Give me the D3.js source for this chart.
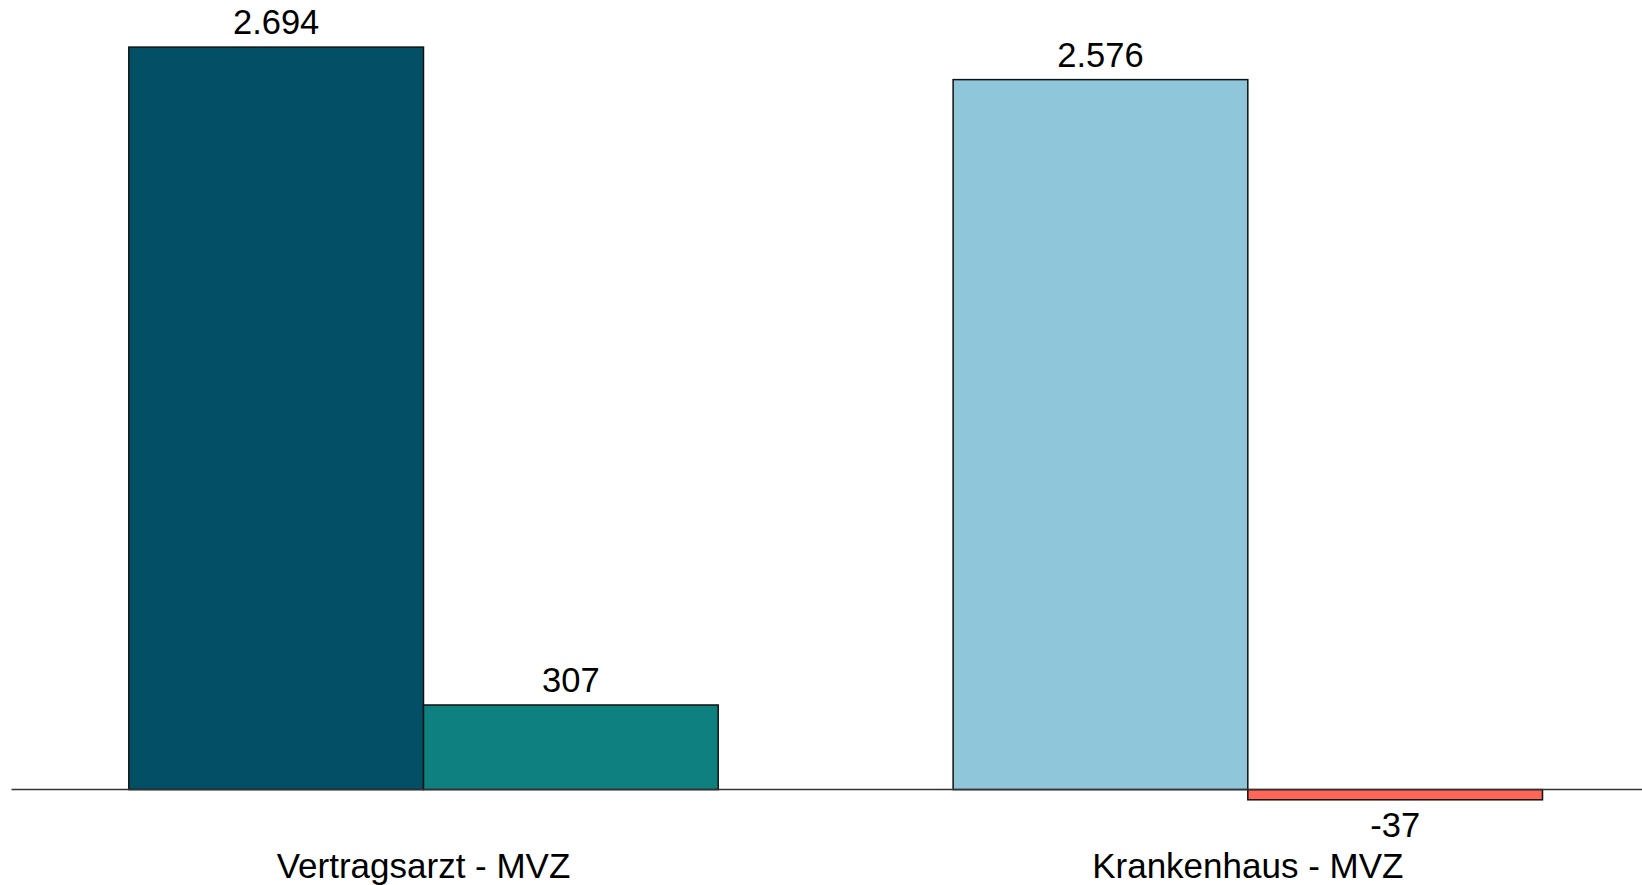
<!DOCTYPE html>
<html>
<head>
<meta charset="utf-8">
<script src="https://cdn.jsdelivr.net/npm/d3@7"></script>
<style>
  html, body { margin: 0; padding: 0; background: #fff; }
  svg { display: block; }
  text { font-family: "Liberation Sans", Arial, sans-serif; fill: #000; }
</style>
</head>
<body>
<svg id="chart" width="1642" height="885"></svg>
<script>
// Categories and the two bars shown for each one
const categories = ["Vertragsarzt - MVZ", "Krankenhaus - MVZ"];
const firstValues = [2694, 2576];
const secondValues = [307, -37];
const firstColors = ["#034f66", "#8fc6d9"];
const secondColors = ["#0e8080", "#ff6657"];

const W = 1642, H = 885;
const svg = d3.select("#chart");

const deLocale = d3.formatLocale({ decimal: ",", thousands: ".", grouping: [3], currency: ["", " €"], minus: "-" });
const fmt = deLocale.format(",d");

const rows = [];
categories.forEach((c, i) => {
  rows.push({ cat: c, key: "a", value: firstValues[i], color: firstColors[i] });
  rows.push({ cat: c, key: "b", value: secondValues[i], color: secondColors[i] });
});

const x = d3.scaleBand().domain(categories).range([128.8, 1542.5]).paddingInner(0.285).paddingOuter(0);
const xs = d3.scaleBand().domain(["a", "b"]).range([0, x.bandwidth()]).padding(0);
const y = d3.scaleLinear().domain([0, d3.max(firstValues)]).range([789.6, 47.1]);

// bars
svg.append("g").selectAll("rect").data(rows).join("rect")
  .attr("x", d => x(d.cat) + xs(d.key))
  .attr("y", d => Math.min(y(d.value), y(0)))
  .attr("width", xs.bandwidth())
  .attr("height", d => Math.abs(y(d.value) - y(0)))
  .attr("fill", d => d.color)
  .attr("stroke", "#111")
  .attr("stroke-width", 1.5);

// zero line
svg.append("line")
  .attr("x1", 11.5).attr("x2", W)
  .attr("y1", y(0)).attr("y2", y(0))
  .attr("stroke", "#333").attr("stroke-width", 1.5);

// value labels
svg.append("g").selectAll("text").data(rows).join("text")
  .attr("x", d => x(d.cat) + xs(d.key) + xs.bandwidth() / 2)
  .attr("y", d => d.value >= 0 ? y(d.value) - 13 : y(d.value) + 37)
  .attr("text-anchor", "middle")
  .attr("font-size", 34.5)
  .text(d => fmt(d.value));

// category labels
const xAxis = d3.axisBottom(x).tickSize(0).tickPadding(0);
const ax = svg.append("g").attr("transform", `translate(0,${y(0)})`).call(xAxis);
ax.select(".domain").remove();
ax.selectAll("text")
  .attr("font-size", 35)
  .attr("font-family", "'Liberation Sans', Arial, sans-serif")
  .attr("fill", "#000")
  .attr("dy", null)
  .attr("y", 88);
</script>
</body>
</html>
